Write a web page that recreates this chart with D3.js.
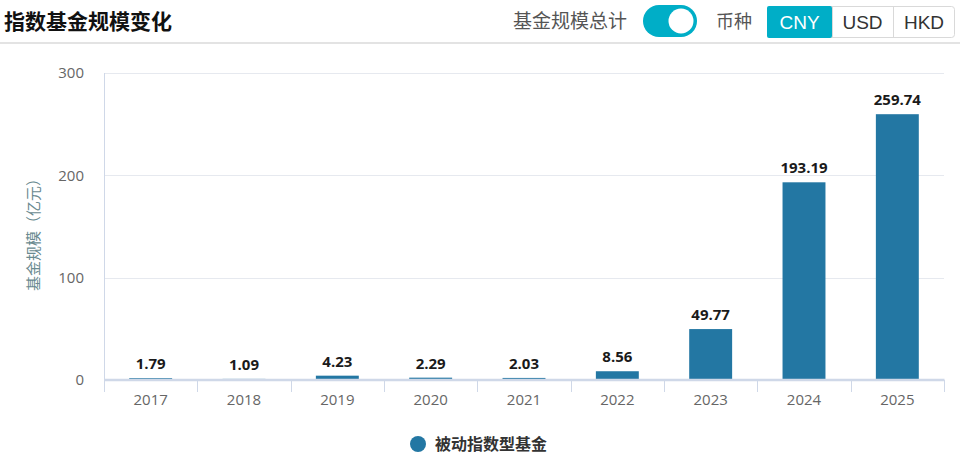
<!DOCTYPE html>
<html><head><meta charset="utf-8">
<script src="https://cdn.jsdelivr.net/npm/d3@7/dist/d3.min.js"></script>
<style>
html,body{margin:0;padding:0;background:#fff;}
svg{display:block;font-family:"Noto Sans CJK SC","Open Sans","DejaVu Sans",sans-serif;}
</style></head>
<body>
<svg id="c" width="960" height="461"></svg>
<script>
const categories = ["2017","2018","2019","2020","2021","2022","2023","2024","2025"];
const values = [1.79, 1.09, 4.23, 2.29, 2.03, 8.56, 49.77, 193.19, 259.74];
const yTicks = [0, 100, 200, 300];
const seriesName = "被动指数型基金";
const title = "指数基金规模变化";
const currencies = ["CNY","USD","HKD"];

const svg = d3.select("#c");
const W = 960, H = 461;
const m = {left:104, right:16, top:73, bottom:81};
const x = d3.scaleBand().domain(categories).range([m.left, W - m.right]).paddingInner(0.54).paddingOuter(0.27);
const xb = d3.scaleBand().domain(categories).range([m.left, W - m.right]);
const y = d3.scaleLinear().domain([0, 300]).range([H - m.bottom, m.top]);
const barColor = "#2377a3";
const teal = "#00aec7";
const latin = "'Open Sans','DejaVu Sans',sans-serif";

// header
svg.append("text").attr("x", 4).attr("y", 29).attr("font-size", 21).attr("font-weight", "bold")
  .attr("fill", "#111").text(title);
svg.append("rect").attr("x", 0).attr("y", 42).attr("width", W).attr("height", 2).attr("fill", "#e3e3e3");

svg.append("text").attr("x", 513).attr("y", 28).attr("font-size", 19).attr("fill", "#555").text("基金规模总计");
svg.append("rect").attr("x", 643).attr("y", 5).attr("width", 54).attr("height", 32).attr("rx", 16).attr("fill", teal);
svg.append("circle").attr("cx", 681).attr("cy", 21).attr("r", 12.5).attr("fill", "#fff");
svg.append("text").attr("x", 716).attr("y", 28).attr("font-size", 18).attr("fill", "#555").text("币种");

const bx = [767, 832, 893, 955];
svg.append("rect").attr("x", 767.5).attr("y", 6.5).attr("width", 187).attr("height", 31).attr("rx", 3)
  .attr("fill", "#fff").attr("stroke", "#d9d9d9");
currencies.forEach((c, i) => {
  if (i === 0) svg.append("rect").attr("x", bx[0]).attr("y", 6).attr("width", bx[1]-bx[0]).attr("height", 32).attr("rx", 2).attr("fill", teal);
  if (i > 0) svg.append("line").attr("x1", bx[i]+0.5).attr("x2", bx[i]+0.5).attr("y1", 7).attr("y2", 37).attr("stroke", "#d9d9d9");
  svg.append("text").attr("x", (bx[i]+bx[i+1])/2).attr("y", 29).attr("text-anchor", "middle")
    .attr("font-family", "'Liberation Sans',Arial,sans-serif").attr("font-size", 19)
    .attr("fill", i === 0 ? "#fff" : "#333").text(c);
});

// grid
svg.append("g").selectAll("line").data(yTicks.filter(d => d > 0)).join("line")
  .attr("x1", m.left).attr("x2", W - m.right)
  .attr("y1", d => Math.round(y(d)) + 0.5).attr("y2", d => Math.round(y(d)) + 0.5)
  .attr("stroke", "#e6e9ef");

// bars
svg.append("g").selectAll("rect").data(values).join("rect")
  .attr("x", (d, i) => x(categories[i]))
  .attr("width", x.bandwidth())
  .attr("y", d => y(d))
  .attr("height", d => y(0) - y(d))
  .attr("fill", barColor);

// y axis
const yAxis = svg.append("g").attr("transform", `translate(${m.left},0)`)
  .call(d3.axisLeft(y).tickValues(yTicks).tickSize(0).tickPadding(20));
yAxis.select(".domain").attr("stroke", "#cfd8e8").attr("d", `M0.5,${y(300)}V${y(0)}`);
yAxis.selectAll("text").attr("font-size", 15).attr("fill", "#666").attr("font-family", latin);

// x axis
const xAxis = svg.append("g").attr("transform", `translate(0,${Math.round(y(0)) - 0.5})`)
  .call(d3.axisBottom(xb).tickSize(0).tickPadding(15));
xAxis.select(".domain").attr("stroke", "#cfd8e8").attr("stroke-width", 2.5);
xAxis.selectAll("text").attr("font-size", 15).attr("fill", "#666").attr("font-family", latin);
svg.append("g").selectAll("line").data(categories.concat(["_end"])).join("line")
  .attr("x1", (d, i) => Math.round(m.left + i * xb.step()) + 0.5)
  .attr("x2", (d, i) => Math.round(m.left + i * xb.step()) + 0.5)
  .attr("y1", y(0)).attr("y2", y(0) + 12).attr("stroke", "#cfd8e8");

// labels
svg.append("g").selectAll("text").data(values).join("text")
  .attr("x", (d, i) => x(categories[i]) + x.bandwidth() / 2)
  .attr("y", d => y(d) - 9)
  .attr("text-anchor", "middle")
  .attr("font-family", latin)
  .attr("font-size", 15).attr("font-weight", "bold").attr("fill", "#1a1a1a")
  .attr("stroke", "#fff").attr("stroke-width", 2).attr("paint-order", "stroke")
  .text(d => d.toFixed(2));

// y title
svg.append("text").attr("transform", "translate(39,231) rotate(-90)").attr("text-anchor", "middle")
  .attr("font-size", 15).attr("fill", "#6a8a90").text("基金规模（亿元）");

// legend
svg.append("circle").attr("cx", 418).attr("cy", 444).attr("r", 8).attr("fill", barColor);
svg.append("text").attr("x", 435).attr("y", 450).attr("font-size", 16).attr("font-weight", "bold")
  .attr("fill", "#333").text(seriesName);
</script>
</body></html>
